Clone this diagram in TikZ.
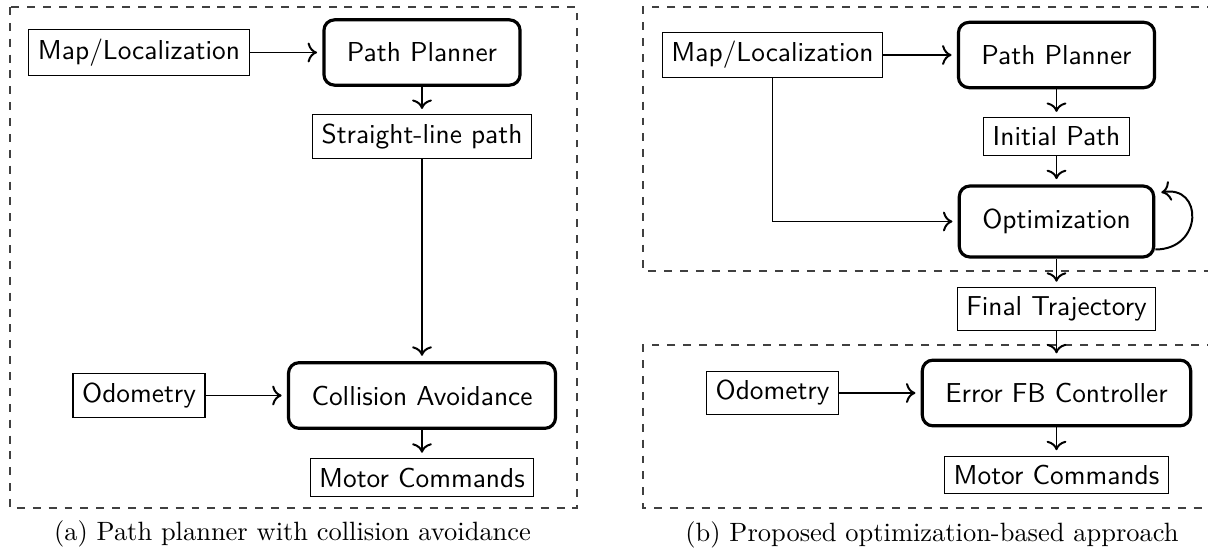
\documentclass[tikz,border=0pt]{standalone}
\usepackage{fontspec}
\usetikzlibrary{calc,arrows.meta}
\begin{document}
\begin{tikzpicture}[x=0.378pt,y=-0.378pt,
  every node/.style={font=\fontsize{10.35}{12.4}\selectfont\sffamily},
  plainbox/.style={draw, line width=0.4pt, inner sep=3.45pt},
  stagebox/.style={draw, line width=1.2pt, rounded corners=4pt, inner sep=8.7pt},
  link/.style={-{To[scale=1.1]}, line width=0.75pt, shorten >=2pt},
  loopback/.style={-{To[scale=1.1]}, line width=0.75pt},
  frame/.style={dashed, line width=0.4pt, draw=black!75},
  caption/.style={font=\fontsize{10}{12}\selectfont\rmfamily}]
\useasboundingbox (0,0) rectangle (1208,552);

% ---------- (a) planner with collision avoidance ----------
\draw[frame] (10,7) rectangle (577,508);
\node[plainbox] (lml)  at (139,52.5)  {Map/Localization};
\node[stagebox] (lpp)  at (422,52.5)  {Path Planner};
\node[plainbox] (lslp) at (422,136.5) {Straight-line path};
\node[stagebox] (lca)  at (422,395.5) {Collision Avoidance};
\node[plainbox] (lodo) at (139,395.5) {Odometry};
\node[plainbox] (lmc)  at (422,477.5) {Motor Commands};

\draw[link] (lml.east) -- (lpp.west);
\draw[link] (lpp.south) -- (lslp.north);
\draw[link] (lslp.south) -- (lca.north);
\draw[link] (lodo.east) -- (lca.west);
\draw[link] (lca.south) -- (lmc.north);

\node[caption] (capa) at (292.5,534) {(a) Path planner with collision avoidance};

% ---------- (b) optimization-based approach ----------
\draw[frame] (1215,7) -- (643,7) -- (643,271) -- (1215,271);
\draw[frame] (1215,345) -- (643,345) -- (643,508) -- (1215,508);

\node[plainbox] (rml)  at (772.5,55)   {Map/Localization};
\node[stagebox] (rpp)  at (1056.5,55)  {Path Planner};
\node[plainbox] (rip)  at (1056.5,136.5){Initial Path};
\node[stagebox] (ropt) at (1056.5,221.5){Optimization};
\node[plainbox] (rft)  at (1056.5,309) {Final Trajectory};
\node[stagebox] (refb) at (1056.5,393) {Error FB Controller};
\node[plainbox] (rodo) at (772.5,393)  {Odometry};
\node[plainbox] (rmc)  at (1056.5,475) {Motor Commands};

\draw[link] (rml.east) -- (rpp.west);
\draw[link] (rpp.south) -- (rip.north);
\draw[link] (rip.south) -- (ropt.north);
\draw[link] (rml.south) |- (ropt.west);
\draw[loopback] ($(ropt.east)+(0,28)$)
  .. controls ($(ropt.east)+(48,28)$) and ($(ropt.east)+(48,-37)$)
  .. ($(ropt.east)+(6,-29)$);
\draw[link] (ropt.south) -- (rft.north);
\draw[link] (rft.south) -- (refb.north);
\draw[link] (rodo.east) -- (refb.west);
\draw[link] (refb.south) -- (rmc.north);

\node[caption] (capb) at (932,535) {(b) Proposed optimization-based approach};
\end{tikzpicture}
\end{document}
